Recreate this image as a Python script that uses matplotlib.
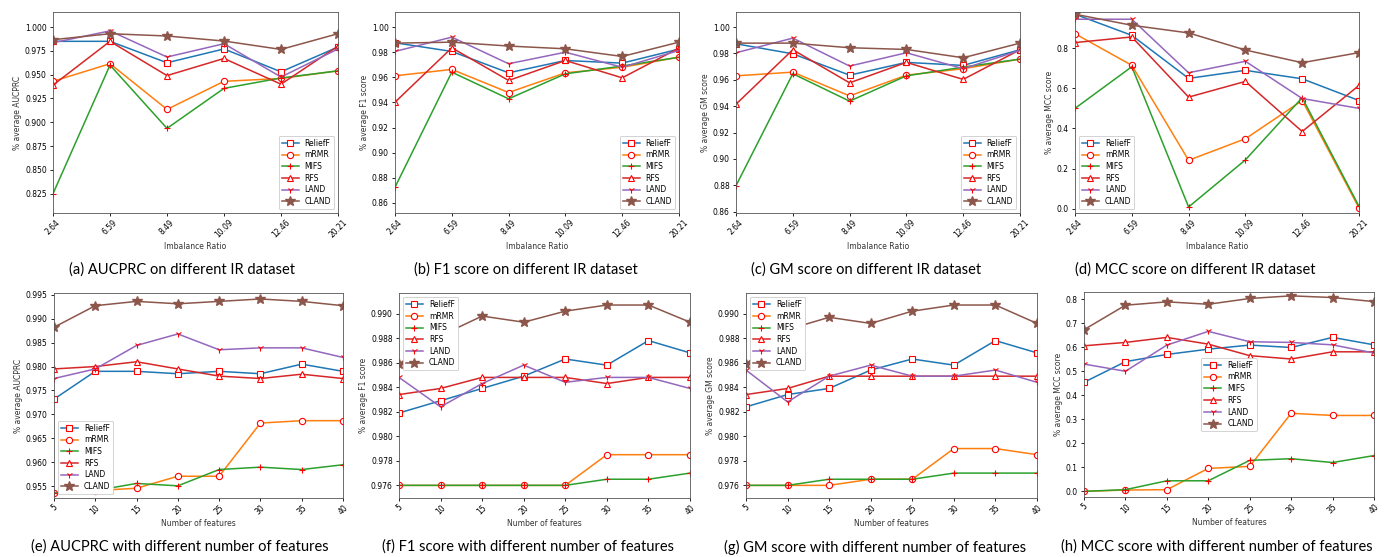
import matplotlib.pyplot as plt

# imbalance ratios of the datasets and the feature counts tried
ir_labels = ['2.64', '6.59', '8.49', '10.09', '12.46', '20.21']
nfeat_labels = ['5', '10', '15', '20', '25', '30', '35', '40']
methods = ['ReliefF', 'mRMR', 'MIFS', 'RFS', 'LAND', 'CLAND']

# scores on datasets with different IR (ReliefF, mRMR, MIFS, RFS, LAND, CLAND)
aucprc_ir = [
    [0.985, 0.985, 0.9625, 0.977, 0.953, 0.979],
    [0.943, 0.9615, 0.9135, 0.943, 0.946, 0.954],
    [0.825, 0.960, 0.8936, 0.9356, 0.9465, 0.954],
    [0.939, 0.985, 0.949, 0.967, 0.940, 0.980],
    [0.9835, 0.996, 0.9685, 0.9825, 0.9475, 0.977],
    [0.9867, 0.993, 0.9906, 0.9853, 0.9765, 0.993],
]
f1_ir = [
    [0.9875, 0.9806, 0.9636, 0.9734, 0.9713, 0.9825],
    [0.9612, 0.9663, 0.9479, 0.9636, 0.968, 0.976],
    [0.8725, 0.9641, 0.9429, 0.9628, 0.969, 0.976],
    [0.9402, 0.9835, 0.9575, 0.9734, 0.9596, 0.9833],
    [0.9806, 0.992, 0.9708, 0.980, 0.968, 0.9814],
    [0.9872, 0.988, 0.9849, 0.9827, 0.9766, 0.988],
]
gm_ir = [
    [0.9873, 0.9797, 0.9635, 0.9732, 0.9709, 0.9828],
    [0.963, 0.9658, 0.9478, 0.9635, 0.9684, 0.9757],
    [0.8797, 0.9646, 0.9438, 0.963, 0.9696, 0.9757],
    [0.9415, 0.9828, 0.9577, 0.9732, 0.9603, 0.9828],
    [0.9805, 0.9916, 0.9704, 0.9805, 0.9684, 0.9823],
    [0.9878, 0.9878, 0.9843, 0.983, 0.9767, 0.9878],
]
mcc_ir = [
    [0.968, 0.863, 0.649, 0.689, 0.647, 0.539],
    [0.871, 0.714, 0.242, 0.349, 0.539, 0.005],
    [0.500, 0.707, 0.010, 0.244, 0.553, 0.013],
    [0.827, 0.855, 0.556, 0.634, 0.385, 0.614],
    [0.943, 0.943, 0.677, 0.734, 0.549, 0.500],
    [0.968, 0.913, 0.875, 0.790, 0.727, 0.777],
]

# scores with different number of selected features
aucprc_nf = [
    [0.9732, 0.979, 0.979, 0.9785, 0.979, 0.9785, 0.9805, 0.979],
    [0.9536, 0.9541, 0.9546, 0.9571, 0.9571, 0.9682, 0.9687, 0.9687],
    [0.9536, 0.9541, 0.9556, 0.9551, 0.9585, 0.959, 0.9585, 0.9595],
    [0.9795, 0.980, 0.981, 0.9795, 0.978, 0.9775, 0.9784, 0.9775],
    [0.9775, 0.9795, 0.9844, 0.9868, 0.9835, 0.9839, 0.9839, 0.9819],
    [0.9882, 0.9927, 0.9936, 0.9931, 0.9936, 0.9941, 0.9936, 0.9927],
]
f1_nf = [
    [0.9819, 0.9829, 0.9839, 0.9849, 0.9863, 0.9858, 0.9878, 0.9868],
    [0.976, 0.976, 0.976, 0.976, 0.976, 0.9785, 0.9785, 0.9785],
    [0.976, 0.976, 0.976, 0.976, 0.976, 0.9765, 0.9765, 0.977],
    [0.9834, 0.9839, 0.9848, 0.9848, 0.9848, 0.9843, 0.9848, 0.9848],
    [0.9848, 0.9824, 0.9843, 0.9858, 0.9844, 0.9848, 0.9848, 0.9839],
    [0.9859, 0.9882, 0.9898, 0.9893, 0.9902, 0.9907, 0.9907, 0.9893],
]
gm_nf = [
    [0.9824, 0.9834, 0.9839, 0.9854, 0.9863, 0.9858, 0.9878, 0.9868],
    [0.976, 0.976, 0.976, 0.9765, 0.9765, 0.979, 0.979, 0.9785],
    [0.976, 0.976, 0.9765, 0.9765, 0.9765, 0.977, 0.977, 0.977],
    [0.9834, 0.9839, 0.9849, 0.9849, 0.9849, 0.9849, 0.9849, 0.9849],
    [0.9854, 0.9828, 0.9849, 0.9858, 0.9849, 0.9849, 0.9854, 0.9844],
    [0.9859, 0.9887, 0.9897, 0.9892, 0.9902, 0.9907, 0.9907, 0.9892],
]
mcc_nf = [
    [0.454, 0.540, 0.570, 0.592, 0.609, 0.599, 0.641, 0.610],
    [0.000, 0.0055, 0.007, 0.0955, 0.104, 0.325, 0.316, 0.316],
    [0.000, 0.007, 0.044, 0.044, 0.129, 0.136, 0.120, 0.149],
    [0.606, 0.620, 0.641, 0.613, 0.565, 0.551, 0.581, 0.581],
    [0.530, 0.500, 0.609, 0.666, 0.623, 0.620, 0.610, 0.576],
    [0.673, 0.775, 0.789, 0.779, 0.803, 0.814, 0.807, 0.790],
]

colors = ['tab:blue', 'tab:orange', 'tab:green', 'tab:red', 'tab:purple', 'tab:brown']
markers = ['s', 'o', '+', '^', '1', '*']

fig = plt.figure(figsize=(13.92, 5.57), dpi=100)
W, H = 1392, 557


def panel(box, labels, data, ylabel, xlabel, ylim, yticks, legend_loc, caption, cap_xy):
    l, t, r, b = box
    ax = fig.add_axes([l / W, 1 - b / H, (r - l) / W, (b - t) / H])
    x = list(range(len(labels)))
    for i, name in enumerate(methods):
        if name == 'CLAND':
            ax.plot(x, data[i], color=colors[i], marker='*', markersize=7,
                    markerfacecolor=colors[i], markeredgecolor=colors[i],
                    linewidth=1.1, label=name)
        else:
            ax.plot(x, data[i], color=colors[i], marker=markers[i], markersize=4.5,
                    markerfacecolor='white', markeredgecolor='red',
                    markeredgewidth=0.8, linewidth=1.1, label=name)
    ax.set_xlim(0, len(labels) - 1)
    ax.set_xticks(x)
    ax.set_xticklabels(labels, rotation=45, fontsize=5.5)
    ax.set_ylim(*ylim)
    ax.set_yticks(yticks)
    ax.tick_params(axis='y', labelsize=5.5, length=2.5, width=0.6, pad=2)
    ax.tick_params(axis='x', length=2.5, width=0.6, pad=1)
    ax.set_ylabel(ylabel, fontsize=5.5, color='#333333', labelpad=2)
    ax.set_xlabel(xlabel, fontsize=5.5, color='#333333', labelpad=2)
    for s in ax.spines.values():
        s.set_linewidth(0.6)
        s.set_color('#555555')
    leg = ax.legend(loc=legend_loc, fontsize=5.5, handlelength=2.2,
                    borderpad=0.4, labelspacing=0.35, framealpha=1)
    leg.get_frame().set_linewidth(0.6)
    fig.text(cap_xy[0] / W, 1 - cap_xy[1] / H, caption, ha='center', va='center',
             fontsize=10.5, family='Lato')
    return ax


def fr(a, b, step, n):
    return [round(a + step * k, 4) for k in range(n)]


ir_x = 'Imbalance Ratio'
nf_x = 'Number of features'

panel((53, 12, 338, 213), ir_labels, aucprc_ir, '% average AUCPRC', ir_x,
      (0.8047, 1.0158), fr(0.825, 1.0, 0.025, 8), 'lower right',
      '(a) AUCPRC on different IR dataset', (182, 270))
panel((395, 12, 679, 213), ir_labels, f1_ir, '% average F1 score', ir_x,
      (0.852, 1.012), fr(0.86, 1.0, 0.02, 8), 'lower right',
      '(b) F1 score on different IR dataset', (526, 270))
panel((736, 12, 1020, 213), ir_labels, gm_ir, '% average GM score', ir_x,
      (0.859, 1.0114), fr(0.86, 1.0, 0.02, 8), 'lower right',
      '(c) GM score on different IR dataset', (866, 270))
panel((1075, 12, 1359, 213), ir_labels, mcc_ir, '% average MCC score', ir_x,
      (-0.02, 0.979), fr(0.0, 0.8, 0.2, 5), 'lower left',
      '(d) MCC score on different IR dataset', (1195, 270))

panel((54, 293, 343, 498), nfeat_labels, aucprc_nf, '% average AUCPRC', nf_x,
      (0.95256, 0.99535), fr(0.955, 0.995, 0.005, 9), 'lower left',
      '(e) AUCPRC with different number of features', (180, 547))
panel((399, 293, 690, 498), nfeat_labels, f1_nf, '% average F1 score', nf_x,
      (0.97497, 0.99168), fr(0.976, 0.990, 0.002, 8), 'upper left',
      '(f) F1 score with different number of features', (528, 547))
panel((746, 293, 1037, 498), nfeat_labels, gm_nf, '% average GM score', nf_x,
      (0.97497, 0.99168), fr(0.976, 0.990, 0.002, 8), 'upper left',
      '(g) GM score with different number of features', (875, 547))
panel((1084, 292, 1374, 497), nfeat_labels, mcc_nf, '% average MCC score', nf_x,
      (-0.0235, 0.830), fr(0.0, 0.8, 0.1, 9), 'center',
      '(h) MCC score with different number of features', (1217, 547))

fig.savefig('out.png', dpi=100)
